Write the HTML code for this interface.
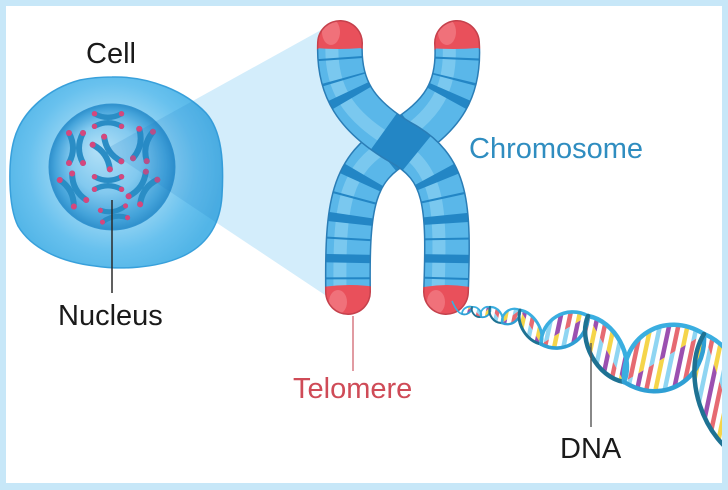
<!DOCTYPE html>
<html>
<head>
<meta charset="utf-8">
<style>
  html,body{margin:0;padding:0;background:#fff;}
  body{width:728px;height:490px;overflow:hidden;}
  svg{display:block;}
  text{font-family:"Liberation Sans", Arial, sans-serif;font-size:29px;}
</style>
</head>
<body>
<svg width="728" height="490" viewBox="0 0 728 490" xmlns="http://www.w3.org/2000/svg">
<defs>
  <radialGradient id="cellG" gradientUnits="userSpaceOnUse" cx="112" cy="167" r="112">
    <stop offset="0.5" stop-color="#92d3f3"/>
    <stop offset="0.75" stop-color="#68c1ee"/>
    <stop offset="1" stop-color="#52b5e7"/>
  </radialGradient>
  <radialGradient id="nucG" gradientUnits="userSpaceOnUse" cx="112" cy="167" r="63" fx="98" fy="148">
    <stop offset="0" stop-color="#b4e1f7"/>
    <stop offset="0.55" stop-color="#82c9ef"/>
    <stop offset="0.88" stop-color="#44a3da"/>
    <stop offset="1" stop-color="#2f90cc"/>
  </radialGradient>
  <clipPath id="cellClip">
    <path d="M112,77 C150,76 186,92 206,113 C222,131 224,162 222,196 C220,226 206,246 181,257 C156,268 121,270 95,266 C60,262 31,248 18,226 C8,206 8,162 14,140 C22,110 50,88 80,80 C90,78 100,77 112,77 Z"/>
  </clipPath>
  <g id="mc">
    <path d="M-7,-15 Q1,0 -7,15 M7,-15 Q-1,0 7,15" stroke="#2a8dc5" stroke-width="6" fill="none" stroke-linecap="round"/>
    <circle cx="-7" cy="-15" r="3" fill="#d5477d"/>
    <circle cx="7" cy="-15" r="3" fill="#d5477d"/>
    <circle cx="-7" cy="15" r="3" fill="#d5477d"/>
    <circle cx="7" cy="15" r="3" fill="#d5477d"/>
  </g>

  <mask id="mA" maskUnits="userSpaceOnUse" x="0" y="0" width="728" height="490">
    <path d="M340,43 C338,88 356,116 400,142 C448,168 449,205 446,292" stroke="#fff" stroke-width="43" fill="none" stroke-linecap="round"/>
  </mask>
  <mask id="mAo" maskUnits="userSpaceOnUse" x="0" y="0" width="728" height="490">
    <path d="M340,43 C338,88 356,116 400,142 C448,168 449,205 446,292" stroke="#fff" stroke-width="46" fill="none" stroke-linecap="round"/>
  </mask>
  <mask id="mB" maskUnits="userSpaceOnUse" x="0" y="0" width="728" height="490">
    <path d="M457,43 C460,88 444,116 400,142 C352,168 347,205 348,292" stroke="#fff" stroke-width="43" fill="none" stroke-linecap="round"/>
  </mask>
  <mask id="mBo" maskUnits="userSpaceOnUse" x="0" y="0" width="728" height="490">
    <path d="M457,43 C460,88 444,116 400,142 C352,168 347,205 348,292" stroke="#fff" stroke-width="46" fill="none" stroke-linecap="round"/>
  </mask>

  <pattern id="pU" patternUnits="userSpaceOnUse" width="36" height="10" patternTransform="rotate(12)">
    <rect x="0" y="0" width="4.5" height="10" fill="#9b50b0"/>
    <rect x="9" y="0" width="4.5" height="10" fill="#e66a72"/>
    <rect x="18" y="0" width="4.5" height="10" fill="#f5d54a"/>
    <rect x="27" y="0" width="4.5" height="10" fill="#8fd5f2"/>
  </pattern>
  <pattern id="pL" patternUnits="userSpaceOnUse" width="36" height="10" patternTransform="rotate(12)">
    <rect x="0" y="0" width="4.5" height="10" fill="#f5d54a"/>
    <rect x="9" y="0" width="4.5" height="10" fill="#8fd5f2"/>
    <rect x="18" y="0" width="4.5" height="10" fill="#9b50b0"/>
    <rect x="27" y="0" width="4.5" height="10" fill="#e66a72"/>
  </pattern>

  <clipPath id="cu">
    <path transform="translate(467,310.5) rotate(-35)" d="M-6.1,0 C-3.4,-4 3.4,-4 6.1,0Z"/>
    <path transform="translate(476.5,312) rotate(48)" d="M-6.7,0 C-3.7,-4.7 3.7,-4.7 6.7,0Z"/>
    <path transform="translate(485.5,312) rotate(-48)" d="M-6.7,0 C-3.7,-5.3 3.7,-5.3 6.7,0Z"/>
    <path transform="translate(496,315) rotate(53)" d="M-10,0 C-5.5,-6.7 5.5,-6.7 10,0Z"/>
    <path transform="translate(511,316.5) rotate(-36)" d="M-11.1,0 C-6.1,-8.7 6.1,-8.7 11.1,0Z"/>
    <path transform="translate(530.5,327) rotate(58)" d="M-20,0 C-11,-10.7 11,-10.7 20,0Z"/>
    <path transform="translate(564.5,330) rotate(-31)" d="M-27.4,0 C-15.1,-21 15.1,-21 27.4,0Z"/>
    <path transform="translate(606,349) rotate(61.4)" d="M-37.6,0 C-20.7,-21.3 20.7,-21.3 37.6,0Z"/>
    <path transform="translate(664,358) rotate(-31)" d="M-46.6,0 C-25.6,-41 25.6,-41 46.6,0Z"/>
    <path transform="translate(724.5,397) rotate(72)" d="M-66.3,0 C-36.5,-34.6 36.5,-34.6 66.3,0Z"/>
  </clipPath>
  <clipPath id="cl">
    <path transform="translate(467,310.5) rotate(-35)" d="M-6.1,0 C-3.4,4 3.4,4 6.1,0Z"/>
    <path transform="translate(476.5,312) rotate(48)" d="M-6.7,0 C-3.7,4.7 3.7,4.7 6.7,0Z"/>
    <path transform="translate(485.5,312) rotate(-48)" d="M-6.7,0 C-3.7,5.3 3.7,5.3 6.7,0Z"/>
    <path transform="translate(496,315) rotate(53)" d="M-10,0 C-5.5,6.7 5.5,6.7 10,0Z"/>
    <path transform="translate(511,316.5) rotate(-36)" d="M-11.1,0 C-6.1,8.7 6.1,8.7 11.1,0Z"/>
    <path transform="translate(530.5,327) rotate(58)" d="M-20,0 C-11,10.7 11,10.7 20,0Z"/>
    <path transform="translate(564.5,330) rotate(-31)" d="M-27.4,0 C-15.1,21 15.1,21 27.4,0Z"/>
    <path transform="translate(606,349) rotate(61.4)" d="M-37.6,0 C-20.7,21.3 20.7,21.3 37.6,0Z"/>
    <path transform="translate(664,358) rotate(-31)" d="M-46.6,0 C-25.6,41 25.6,41 46.6,0Z"/>
    <path transform="translate(724.5,397) rotate(72)" d="M-66.3,0 C-36.5,34.6 36.5,34.6 66.3,0Z"/>
  </clipPath>
</defs>

<!-- background -->
<rect x="0" y="0" width="728" height="490" fill="#ffffff"/>

<!-- zoom wedge -->
<polygon points="106,149 330,25 380,145 340,305" fill="#d3edfb"/>

<!-- cell -->
<path d="M112,77 C150,76 186,92 206,113 C222,131 224,162 222,196 C220,226 206,246 181,257 C156,268 121,270 95,266 C60,262 31,248 18,226 C8,206 8,162 14,140 C22,110 50,88 80,80 C90,78 100,77 112,77 Z" fill="url(#cellG)" stroke="#38a0db" stroke-width="1.5"/>
<circle cx="112" cy="167" r="63" fill="url(#nucG)" stroke="#3394d0" stroke-width="1"/>

<!-- mini chromosomes -->
<use href="#mc" transform="translate(108,120) rotate(90) scale(0.9)"/>
<use href="#mc" transform="translate(76,148)"/>
<use href="#mc" transform="translate(107,153) rotate(-35)"/>
<use href="#mc" transform="translate(143,145) rotate(12)"/>
<use href="#mc" transform="translate(108,183) rotate(90) scale(0.9)"/>
<use href="#mc" transform="translate(73,190) rotate(-28)"/>
<use href="#mc" transform="translate(143,188) rotate(35)"/>
<use href="#mc" transform="translate(114,214) rotate(80) scale(0.85)"/>

<!-- wedge overlay inside cell -->
<polygon points="106,149 330,25 380,145 340,305" fill="#1a7fc8" opacity="0.16" clip-path="url(#cellClip)"/>

<!-- nucleus leader -->
<line x1="112" y1="200" x2="112" y2="293" stroke="#2a2a2a" stroke-width="1.5"/>

<!-- Chromatid B (under) -->
<g mask="url(#mBo)">
  <rect x="280" y="0" width="230" height="340" fill="#2a7db6"/>
  <path d="M400,0 H500 V46 Q457,54 400,46 Z" fill="#c5414c"/>
  <path d="M300,490 V292 Q348,278 400,292 V490 Z" fill="#c5414c"/>
</g>
<g mask="url(#mB)">
  <rect x="280" y="0" width="230" height="340" fill="#5ab7e9"/>
  <path d="M457,43 C460,88 444,116 400,142 C352,168 347,205 348,292" transform="translate(-8,0)" stroke="#8fd3f4" stroke-width="13" fill="none" opacity="0.6"/>
  <path d="M457,43 C460,88 444,116 400,142 C352,168 347,205 348,292" pathLength="280" stroke="#2386c5" stroke-width="52" fill="none" stroke-dasharray="0 14 2 18 2 12 7 45 38 27 8 15 2 16 8 14 2 14 8 14 2 100"/>
  <path d="M400,0 H500 V45 Q457,53 400,45 Z" fill="#e9505b"/>
  <path d="M300,490 V292 Q348,278 400,292 V490 Z" fill="#e9505b"/>
  <ellipse cx="447" cy="32" rx="9" ry="13" fill="#f27f88" opacity="0.7"/>
  <ellipse cx="338" cy="302" rx="9" ry="12" fill="#f27f88" opacity="0.7"/>
</g>

<!-- Chromatid A (over) -->
<g mask="url(#mAo)">
  <rect x="280" y="0" width="230" height="340" fill="#2a7db6"/>
  <path d="M290,0 H385 V46 Q340,54 290,46 Z" fill="#c5414c"/>
  <path d="M405,490 V292 Q446,278 490,292 V490 Z" fill="#c5414c"/>
</g>
<g mask="url(#mA)">
  <rect x="280" y="0" width="230" height="340" fill="#5ab7e9"/>
  <path d="M340,43 C338,88 356,116 400,142 C448,168 449,205 446,292" transform="translate(-8,0)" stroke="#8fd3f4" stroke-width="13" fill="none" opacity="0.6"/>
  <path d="M340,43 C338,88 356,116 400,142 C448,168 449,205 446,292" pathLength="280" stroke="#2386c5" stroke-width="52" fill="none" stroke-dasharray="0 14 2 18 2 12 7 45 38 27 8 15 2 16 8 14 2 14 8 14 2 100"/>
  <path d="M290,0 H385 V45 Q340,53 290,45 Z" fill="#e9505b"/>
  <path d="M405,490 V292 Q446,278 490,292 V490 Z" fill="#e9505b"/>
  <ellipse cx="331" cy="32" rx="9" ry="13" fill="#f27f88" opacity="0.7"/>
  <ellipse cx="436" cy="302" rx="9" ry="12" fill="#f27f88" opacity="0.7"/>
</g>

<!-- DNA -->
<path d="M452,301 C455,308 458,313 462,314" stroke="#3aaee0" stroke-width="1.6" fill="none"/>
<rect x="440" y="290" width="300" height="200" fill="url(#pU)" clip-path="url(#cu)"/>
<rect x="440" y="290" width="300" height="200" fill="url(#pL)" clip-path="url(#cl)"/>
<g fill="none" stroke-linecap="round">
  <path transform="translate(467,310.5) rotate(-35)" d="M-6.1,0 C-3.4,-4 3.4,-4 6.1,0" stroke="#3aaee0" stroke-width="1.8"/>
  <path transform="translate(467,310.5) rotate(-35)" d="M-6.1,0 C-3.4,4 3.4,4 6.1,0" stroke="#2f9fd4" stroke-width="1.8"/>
  <path transform="translate(476.5,312) rotate(48)" d="M-6.7,0 C-3.7,-4.7 3.7,-4.7 6.7,0" stroke="#3aaee0" stroke-width="1.8"/>
  <path transform="translate(476.5,312) rotate(48)" d="M-6.7,0 C-3.7,4.7 3.7,4.7 6.7,0" stroke="#1e7293" stroke-width="1.8"/>
  <path transform="translate(485.5,312) rotate(-48)" d="M-6.7,0 C-3.7,-5.3 3.7,-5.3 6.7,0" stroke="#3aaee0" stroke-width="1.8"/>
  <path transform="translate(485.5,312) rotate(-48)" d="M-6.7,0 C-3.7,5.3 3.7,5.3 6.7,0" stroke="#2f9fd4" stroke-width="1.8"/>
  <path transform="translate(496,315) rotate(53)" d="M-10,0 C-5.5,-6.7 5.5,-6.7 10,0" stroke="#3aaee0" stroke-width="2.2"/>
  <path transform="translate(496,315) rotate(53)" d="M-10,0 C-5.5,6.7 5.5,6.7 10,0" stroke="#1e7293" stroke-width="2.2"/>
  <path transform="translate(511,316.5) rotate(-36)" d="M-11.1,0 C-6.1,-8.7 6.1,-8.7 11.1,0" stroke="#3aaee0" stroke-width="2.4"/>
  <path transform="translate(511,316.5) rotate(-36)" d="M-11.1,0 C-6.1,8.7 6.1,8.7 11.1,0" stroke="#2f9fd4" stroke-width="2.4"/>
  <path transform="translate(530.5,327) rotate(58)" d="M-20,0 C-11,-10.7 11,-10.7 20,0" stroke="#3aaee0" stroke-width="3"/>
  <path transform="translate(530.5,327) rotate(58)" d="M-20,0 C-11,10.7 11,10.7 20,0" stroke="#1e7293" stroke-width="3"/>
  <path transform="translate(564.5,330) rotate(-31)" d="M-27.4,0 C-15.1,-21 15.1,-21 27.4,0" stroke="#3aaee0" stroke-width="3.6"/>
  <path transform="translate(564.5,330) rotate(-31)" d="M-27.4,0 C-15.1,21 15.1,21 27.4,0" stroke="#2f9fd4" stroke-width="3.6"/>
  <path transform="translate(606,349) rotate(61.4)" d="M-37.6,0 C-20.7,-21.3 20.7,-21.3 37.6,0" stroke="#3aaee0" stroke-width="4.5"/>
  <path transform="translate(606,349) rotate(61.4)" d="M-37.6,0 C-20.7,21.3 20.7,21.3 37.6,0" stroke="#1e7293" stroke-width="4.5"/>
  <path transform="translate(664,358) rotate(-31)" d="M-46.6,0 C-25.6,-41 25.6,-41 46.6,0" stroke="#3aaee0" stroke-width="4.5"/>
  <path transform="translate(664,358) rotate(-31)" d="M-46.6,0 C-25.6,41 25.6,41 46.6,0" stroke="#2f9fd4" stroke-width="4.5"/>
  <path transform="translate(724.5,397) rotate(72)" d="M-66.3,0 C-36.5,-34.6 36.5,-34.6 66.3,0" stroke="#3aaee0" stroke-width="4.5"/>
  <path transform="translate(724.5,397) rotate(72)" d="M-66.3,0 C-36.5,34.6 36.5,34.6 66.3,0" stroke="#1e7293" stroke-width="4.5"/>
</g>

<!-- leaders -->
<line x1="353" y1="316" x2="353" y2="371" stroke="#d4707a" stroke-width="1.4"/>
<line x1="591" y1="343" x2="591" y2="427" stroke="#555" stroke-width="1.4"/>

<!-- labels -->
<text x="86" y="63" fill="#1a1a1a">Cell</text>
<text x="58" y="325" fill="#1a1a1a">Nucleus</text>
<text x="293" y="398" fill="#cf4b57">Telomere</text>
<text x="469" y="158" fill="#2f8dc0">Chromosome</text>
<text x="560" y="458" fill="#1a1a1a">DNA</text>

<!-- frame -->
<path d="M0,0 H728 V490 H0 Z M6,6 V483 H722 V6 Z" fill="#c7e7f8" fill-rule="evenodd"/>
</svg>
</body>
</html>
